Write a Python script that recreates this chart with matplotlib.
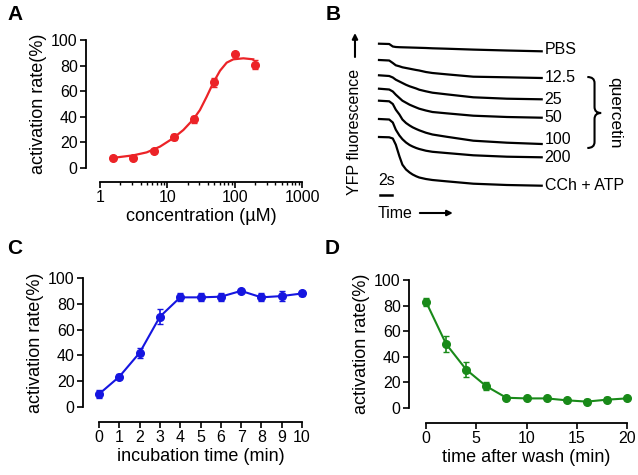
import matplotlib
matplotlib.use("Agg")
import matplotlib.pyplot as plt
from matplotlib.path import Path
from matplotlib.patches import PathPatch
import numpy as np

plt.rcParams['font.family'] = ['Liberation Sans', 'DejaVu Sans']

W, H = 638, 475

# panel A: dose response
conc = [1.5625, 3.125, 6.25, 12.5, 25, 50, 100, 200]
act_a = [7.5, 7.5, 13.5, 24, 38, 67, 89, 80.5]
err_a = [1.5, 1.5, 1.5, 2.5, 2.5, 3.5, 1.5, 3.5]
# fitted curve
fit_conc = [1.54, 1.98, 3.13, 4.93, 7.78, 12.3, 17.3, 24.3, 30.5, 38.4, 48.2, 60.6, 76.1, 95.5, 134.5, 189]
fit_act = [7.8, 8.6, 9.9, 12.2, 16.7, 23.4, 29.7, 38, 45.3, 55.7, 66.7, 76, 82.3, 84.9, 85.7, 84.9]

# panel B: YFP traces (depth below top, a.u.)
trace_t = [0, 1.7, 2.3, 2.8, 3.4, 3.9, 4.5, 5.1, 5.6, 6.2, 6.7, 7.8, 8.9, 11.2, 15.7, 21.3, 27.1]
trace_names = ['PBS', '12.5', '25', '50', '100', '200', 'CCh + ATP']
traces = [
    [43.7, 44, 46.5, 47, 47.2, 47.3, 47.4, 47.5, 47.6, 47.7, 47.8, 48, 48.3, 48.7, 49.6, 50.5, 51.3],
    [60, 60.5, 63, 65.3, 66.3, 67.3, 68, 68.7, 69.3, 70, 70.5, 72, 73, 74.3, 76.7, 77.3, 78],
    [75.3, 76, 77.5, 79.7, 81.5, 83, 84.8, 86.3, 87.3, 88.5, 89.7, 91.3, 92.7, 94.3, 97.3, 98.7, 99.3],
    [88.7, 89.5, 91.5, 94.7, 98, 100.7, 102.7, 104.7, 106, 107.5, 108.7, 110.5, 112, 113.3, 115.7, 117, 117.7],
    [100.7, 101.3, 104, 109.7, 114.5, 119.5, 123, 125.5, 127.3, 129, 130.3, 132.7, 134.5, 136.7, 140.7, 142.7, 144],
    [119, 119.5, 122.5, 129.7, 135.5, 139.2, 142.5, 145, 146.5, 148, 149, 150.7, 151.8, 153, 155.3, 156.7, 157.3],
    [137, 137.3, 138.5, 144.7, 156.3, 164.7, 169.5, 172.5, 174.5, 176.3, 177.5, 179, 180, 181.3, 183.7, 185, 185.7],
]
label_y = [50, 78, 99, 117, 139, 157, 185]

# panel C: incubation time
inc_t = [0, 1, 2, 3, 4, 5, 6, 7, 8, 9, 10]
act_c = [10, 23.5, 42, 70, 85, 85, 85.5, 90, 85, 86, 88]
err_c = [3, 2, 4, 6, 3, 3, 3, 1, 3, 4, 2]

# panel D: washout
wash_t = [0, 2, 4, 6, 8, 10, 12, 14, 16, 18, 20]
act_d = [83, 50, 30, 17, 8, 7.5, 7.5, 6, 5, 6.5, 7.5]
err_d = [3, 6, 6, 3, 1, 1, 1, 1, 2, 2, 1]

red = "#ec2327"
blue = "#1515e0"
green = "#198a19"


def box(x0, x1, ytop, ybot):
    return [x0 / W, 1 - ybot / H, (x1 - x0) / W, (ybot - ytop) / H]


def style_axes(ax, off_left, off_bottom):
    for s in ['top', 'right']:
        ax.spines[s].set_visible(False)
    ax.spines['left'].set_position(('outward', off_left * 0.72))
    ax.spines['bottom'].set_position(('outward', off_bottom * 0.72))
    for s in ['left', 'bottom']:
        ax.spines[s].set_linewidth(1.3)
    ax.tick_params(labelsize=11.5, width=1.2, length=4, pad=2)
    ax.set_ylim(0, 100)
    ax.set_yticks(np.arange(0, 101, 20))
    ax.set_ylabel('activation rate(%)', fontsize=13, labelpad=3)


fig = plt.figure(figsize=(W / 100, H / 100), dpi=100)

# A
axA = fig.add_axes(box(100, 302, 40, 168))
style_axes(axA, 14, 14)
axA.set_xscale('log')
axA.set_xlim(1, 1000)
axA.tick_params(which='minor', length=2.5, width=1)
axA.plot(fit_conc, fit_act, color=red, lw=1.6, clip_on=False)
axA.errorbar(conc, act_a, yerr=err_a, fmt='o', color=red, ms=5.5, capsize=2.5,
             elinewidth=1.2, clip_on=False)
axA.set_xticks([1, 10, 100, 1000])
axA.set_xticklabels(['1', '10', '100', '1000'])
axA.set_xlabel('concentration (µM)', fontsize=13, labelpad=2)

# C
axC = fig.add_axes(box(99, 302, 278, 407))
style_axes(axC, 16, 15)
axC.set_xlim(0, 10)
axC.set_xticks(inc_t)
axC.errorbar(inc_t, act_c, yerr=err_c, fmt='-o', color=blue, ms=5.5, lw=1.5,
             capsize=2.5, elinewidth=1.2, clip_on=False)
axC.set_xlabel('incubation time (min)', fontsize=13, labelpad=2)

# D
axD = fig.add_axes(box(426, 627, 280, 408))
style_axes(axD, 17, 15)
axD.set_xlim(0, 20)
axD.set_xticks([0, 5, 10, 15, 20])
axD.errorbar(wash_t, act_d, yerr=err_d, fmt='-o', color=green, ms=5.5, lw=1.5,
             capsize=2.5, elinewidth=1.2, clip_on=False)
axD.set_xlabel('time after wash (min)', fontsize=13, labelpad=2)

# B
axB = fig.add_axes(box(379, 541.7, 25, 225))
axB.set_xlim(0, 27.1)
axB.set_ylim(225, 25)
axB.axis('off')
for name, tr, ly in zip(trace_names, traces, label_y):
    axB.plot(trace_t, tr, color='black', lw=1.6, clip_on=False)
    axB.text(27.6, ly, name, fontsize=11.5, va='center', ha='left')

# scale bar 2 s
axB.plot([0.2, 2.2], [195, 195], color='black', lw=1.8, clip_on=False)
axB.text(1.2, 188, '2s', fontsize=11.5, ha='center', va='bottom')
axB.text(-0.3, 213, 'Time', fontsize=11.5, ha='left', va='center')
arrow = dict(arrowstyle='-|>', color='black', lw=1.5, mutation_scale=8, shrinkA=0, shrinkB=0)
axB.annotate('', xy=(12.3, 213), xytext=(6.8, 213), arrowprops=arrow,
             annotation_clip=False)
axB.text(-4, 132, 'YFP fluorescence', fontsize=11.5, rotation=90,
         ha='center', va='center')
axB.annotate('', xy=(-4, 33), xytext=(-4, 57), arrowprops=arrow,
             annotation_clip=False)

# brace for quercetin
x0, xm, xt = 34.7, 35.9, 37.0
verts = [(x0, 77), (xm, 77), (xm, 83), (xm, 107), (xm, 113), (xt, 113),
         (xm, 113), (xm, 119), (xm, 142), (xm, 148), (x0, 148)]
codes = [Path.MOVETO, Path.CURVE3, Path.CURVE3, Path.LINETO, Path.CURVE3, Path.CURVE3,
         Path.CURVE3, Path.CURVE3, Path.LINETO, Path.CURVE3, Path.CURVE3]
axB.add_patch(PathPatch(Path(verts, codes), fill=False, lw=1.5, clip_on=False))
axB.text(39.2, 113, 'quercetin', fontsize=12.5, rotation=-90, ha='center', va='center')

# panel letters
for lab, x, y in [('A', 15, 15), ('B', 333, 15), ('C', 15, 249), ('D', 332, 249)]:
    fig.text(x / W, 1 - y / H, lab, fontsize=15, fontweight='bold', ha='center', va='center')

fig.savefig('out.png', dpi=100)
